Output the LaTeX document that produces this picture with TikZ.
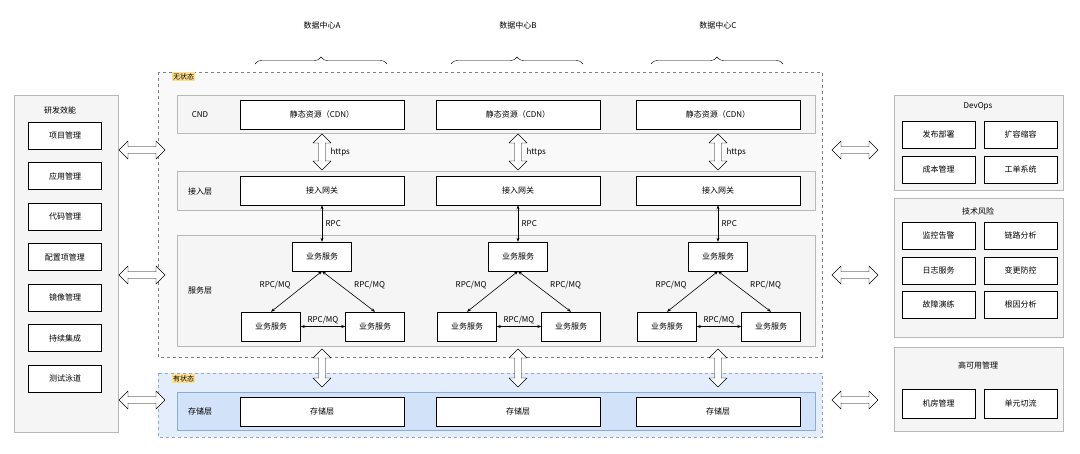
\documentclass[tikz,border=0pt]{standalone}
\usepackage{fontspec}
\setmainfont{Noto Sans CJK SC}
\usetikzlibrary{positioning, shapes.arrows, arrows.meta, calc, decorations.pathreplacing}
\definecolor{panel}{HTML}{F5F5F5}
\definecolor{panelline}{HTML}{B8B8B8}
\definecolor{statebg}{HTML}{E3EDFB}
\definecolor{staterow}{HTML}{D2E2F8}
\definecolor{stateline}{HTML}{8EAAD0}
\definecolor{tagbg}{HTML}{FFE08A}

\begin{document}
\begin{tikzpicture}[
    x=1pt, y=-1pt,
    every node/.style = {font=\fontsize{8}{9}\selectfont},
    box/.style = {draw, fill=white, minimum height=29, inner sep=0pt},
    wide/.style = {box, minimum width=164},
    svc/.style = {box, minimum width=59},
    item/.style = {box, minimum width=73, minimum height=27},
    row/.style = {draw=panelline, fill=panel},
    tag/.style = {fill=tagbg, inner sep=1pt, font=\fontsize{7}{8}\selectfont},
    hollow/.style = {double arrow, draw, fill=white, minimum width=18,
        double arrow head extend=3pt, inner sep=1.5pt},
    arr/.style = {{Stealth[length=4pt]}-{Stealth[length=4pt]}, semithick}
]
\useasboundingbox (0,0) rectangle (1080,453);

% stateless / stateful zones
\draw[dashed, draw=gray, fill=panel!60] (158,72) rectangle (822,357);
\node[tag, anchor=north west] (nostate) at (172,72) {无状态};
\draw[dashed, draw=stateline, fill=statebg] (158,373) rectangle (822,437);
\node[tag, anchor=north west] (state) at (172,374) {有状态};

% layer rows
\draw[row] (177,95) rectangle (815,133);
\draw[row] (177,171) rectangle (815,210);
\draw[row] (177,235) rectangle (815,346);
\draw[draw=stateline, fill=staterow] (177,392) rectangle (815,430);
\node (lcnd) at (200,115) {CND};
\node (lgate) at (200,191) {接入层};
\node (lsvc) at (200,290) {服务层};
\node (lstore) at (200,411) {存储层};

% data centers
\foreach \c/\x in {A/322, B/518, C/718} {
    \node (dc\c) at (\x,25) {数据中心\c};
    \draw[decorate, decoration={brace, amplitude=7pt}] (\x-67,64) -- (\x+65,64);
    \node[wide] (cdn\c) at (\x,114.5) {静态资源（CDN）};
    \node[wide] (gw\c) at (\x,190.5) {接入网关};
    \node[svc] (top\c) at (\x,256.5) {业务服务};
    \node[svc] (left\c) at (\x-51,326.5) {业务服务};
    \node[svc] (right\c) at (\x+53,326.5) {业务服务};
    \node[wide] (db\c) at (\x,411.5) {存储层};
    \node[hollow, rotate=90, minimum height=36] (h\c) at (\x,152) {};
    \node[right=5pt of h\c.center] {https};
    \node[hollow, rotate=90, minimum height=38] (s\c) at (\x,368) {};
    \draw[arr] (gw\c) -- node[right] {RPC} (top\c);
    \draw[arr] (top\c.south) -- node[pos=0.35, left=10pt] {RPC/MQ} (left\c.north);
    \draw[arr] (top\c.south) -- node[pos=0.35, right=10pt] {RPC/MQ} (right\c.north);
    \draw[arr] (left\c) -- node[above=-1pt] {RPC/MQ} (right\c);
}

% left panel
\draw[draw=panelline, fill=panel] (14,95) rectangle (118,432);
\node (rd) at (60,110) {研发效能};
\foreach \t [count=\i] in {项目管理, 应用管理, 代码管理, 配置项管理, 镜像管理, 持续集成, 测试泳道}
    \node[item, minimum width=73] (rd\i) at (65,95+40.5*\i) {\t};

% right panels
\draw[draw=panelline, fill=panel] (894,95) rectangle (1063,190);
\node (devops) at (978,106) {DevOps};
\node[item] (dev1) at (938.5,134.5) {发布部署};
\node[item] (dev2) at (1020.5,134.5) {扩容缩容};
\node[item] (dev3) at (938.5,169.5) {成本管理};
\node[item] (dev4) at (1020.5,169.5) {工单系统};

\draw[draw=panelline, fill=panel] (894,198) rectangle (1063,337);
\node (risk) at (978,211) {技术风险};
\node[item] (rk1) at (938.5,235.5) {监控告警};
\node[item] (rk2) at (1020.5,235.5) {链路分析};
\node[item] (rk3) at (938.5,270.5) {日志服务};
\node[item] (rk4) at (1020.5,270.5) {变更防控};
\node[item] (rk5) at (938.5,304.5) {故障演练};
\node[item] (rk6) at (1020.5,304.5) {根因分析};

\draw[draw=panelline, fill=panel] (894,347) rectangle (1063,431);
\node (ha) at (978,365) {高可用管理};
\node[item, minimum height=29] (ha1) at (938.5,403.5) {机房管理};
\node[item, minimum height=29] (ha2) at (1020.5,403.5) {单元切流};

% side links
\foreach \y [count=\i] in {150, 275, 400} {
    \node[hollow, minimum height=46] (ll\i) at (142,\y) {};
    \node[hollow, minimum height=46] (rl\i) at (855,\y) {};
}
\end{tikzpicture}
\end{document}
